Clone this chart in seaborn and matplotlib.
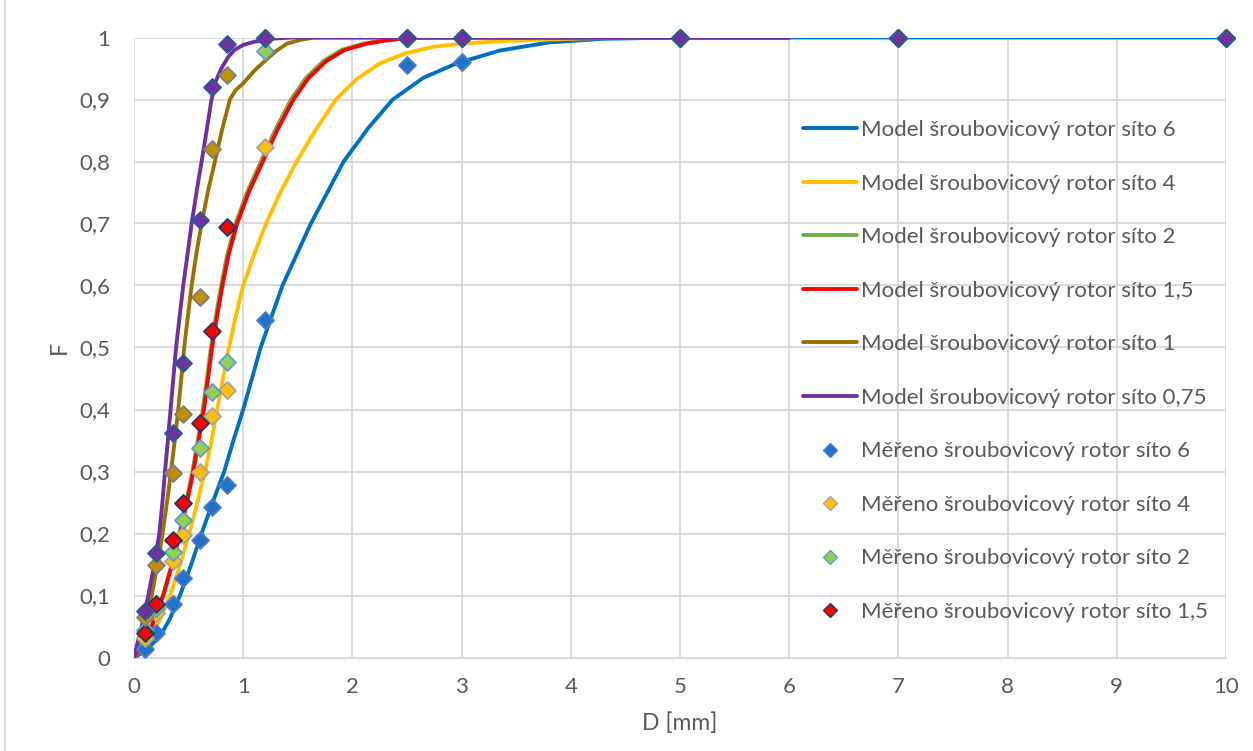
import matplotlib
matplotlib.use("Agg")
import matplotlib.pyplot as plt
from matplotlib.ticker import FuncFormatter, MultipleLocator
from matplotlib.lines import Line2D
import seaborn as sns

# Sieve sizes of the measured fractions [mm]
d_meas = [0.1, 0.2, 0.355, 0.45, 0.6, 0.71, 0.85, 1.2, 2.5, 3, 5, 7, 10]

# Measured cumulative passing F for each screen
meas_6 = [0.013, 0.039, 0.087, 0.129, 0.19, 0.242, 0.279, 0.545, 0.955, 0.96, 1, 1, 1]
meas_4 = [0.031, 0.072, 0.155, 0.198, 0.30, 0.389, 0.432, 0.824, 1, 1, 1, 1, 1]
meas_2 = [0.045, 0.08, 0.170, 0.222, 0.338, 0.429, 0.477, 0.979, 1, 1, 1, 1, 1]
meas_15 = [0.039, 0.086, 0.19, 0.249, 0.379, 0.527, 0.694, 1.0, 1, 1, 1, 1, 1]
meas_1 = [0.066, 0.149, 0.298, 0.393, 0.581, 0.82, 0.94, 1.0, 1, 1, 1, 1, 1]
meas_075 = [0.075, 0.168, 0.362, 0.475, 0.705, 0.92, 0.99, 1.0, 1, 1, 1, 1, 1]

# Model curves (D [mm], F)
model_6_d = [0, 0.1, 0.238, 0.33, 0.421, 0.52, 0.619, 0.72, 0.826, 0.91, 1.0, 1.08, 1.16,
             1.26, 1.36, 1.49, 1.62, 1.77, 1.92, 2.15, 2.37, 2.65, 2.95, 3.35, 3.8, 4.3,
             5, 6, 8, 10]
model_6_f = [0, 0.01, 0.034, 0.063, 0.1, 0.148, 0.2, 0.25, 0.3, 0.35, 0.4, 0.45, 0.5,
             0.55, 0.6, 0.65, 0.7, 0.75, 0.8, 0.855, 0.9, 0.935, 0.958, 0.979, 0.992, 0.998,
             1, 1, 1, 1]

model_4_d = [0, 0.15, 0.25, 0.329, 0.42, 0.506, 0.58, 0.65, 0.71, 0.762, 0.815, 0.87, 0.932,
             1.0, 1.1, 1.21, 1.34, 1.49, 1.66, 1.85, 2.04, 2.25, 2.48, 2.74, 3.0, 3.35,
             4.0, 4.5, 6]
model_4_f = [0, 0.03, 0.066, 0.1, 0.148, 0.2, 0.25, 0.3, 0.35, 0.4, 0.45, 0.5, 0.55,
             0.6, 0.65, 0.7, 0.75, 0.8, 0.85, 0.9, 0.933, 0.958, 0.974, 0.985, 0.99, 0.994,
             0.998, 1, 1]

model_2_d = [0, 0.118, 0.264, 0.345, 0.415, 0.478, 0.535, 0.584, 0.63, 0.668, 0.704, 0.749,
             0.798, 0.854, 0.931, 1.034, 1.162, 1.29, 1.438, 1.576, 1.734, 1.9, 2.1, 2.27,
             2.41, 2.66, 6]
model_2_f = [0, 0.03, 0.1, 0.15, 0.2, 0.25, 0.3, 0.35, 0.4, 0.45, 0.5, 0.55,
             0.6, 0.65, 0.7, 0.75, 0.8, 0.85, 0.9, 0.935, 0.962, 0.98, 0.99, 0.995,
             0.998, 1, 1]

model_15_d = [0, 0.12, 0.268, 0.35, 0.421, 0.485, 0.543, 0.593, 0.64, 0.678, 0.715, 0.76,
              0.81, 0.867, 0.945, 1.05, 1.18, 1.31, 1.46, 1.6, 1.76, 1.93, 2.13, 2.3,
              2.45, 2.7, 6]
model_15_f = [0, 0.03, 0.1, 0.15, 0.2, 0.25, 0.3, 0.35, 0.4, 0.45, 0.5, 0.55,
              0.6, 0.65, 0.7, 0.75, 0.8, 0.85, 0.9, 0.935, 0.962, 0.98, 0.99, 0.995,
              0.998, 1, 1]

model_1_d = [0, 0.08, 0.162, 0.215, 0.262, 0.302, 0.339, 0.373, 0.405, 0.433, 0.46, 0.493,
             0.528, 0.57, 0.619, 0.675, 0.741, 0.805, 0.878, 0.93, 1.0, 1.1, 1.21, 1.3,
             1.4, 1.52, 1.65, 6]
model_1_f = [0, 0.04, 0.1, 0.15, 0.2, 0.25, 0.3, 0.35, 0.4, 0.45, 0.5, 0.55,
             0.6, 0.65, 0.7, 0.75, 0.8, 0.85, 0.9, 0.915, 0.926, 0.946, 0.964, 0.978,
             0.99, 0.996, 1, 1]

model_075_d = [0, 0.07, 0.131, 0.185, 0.232, 0.26, 0.284, 0.31, 0.335, 0.36, 0.385, 0.418,
               0.451, 0.49, 0.528, 0.572, 0.619, 0.665, 0.71, 0.75, 0.80, 0.86, 0.92, 1.0,
               1.1, 1.25, 1.45, 6]
model_075_f = [0, 0.05, 0.1, 0.15, 0.2, 0.25, 0.3, 0.35, 0.4, 0.45, 0.5, 0.55,
               0.6, 0.65, 0.7, 0.75, 0.8, 0.85, 0.9, 0.93, 0.95, 0.968, 0.98, 0.988,
               0.993, 0.998, 1, 1]

label_model = ["Model šroubovicový rotor síto 6", "Model šroubovicový rotor síto 4",
               "Model šroubovicový rotor síto 2", "Model šroubovicový rotor síto 1,5",
               "Model šroubovicový rotor síto 1", "Model šroubovicový rotor síto 0,75"]
label_meas = ["Měřeno šroubovicový rotor síto 6", "Měřeno šroubovicový rotor síto 4",
              "Měřeno šroubovicový rotor síto 2", "Měřeno šroubovicový rotor síto 1,5"]

x_ticks = [0, 1, 2, 3, 4, 5, 6, 7, 8, 9, 10]

sns.set_theme(style="white")
plt.rcParams["font.family"] = ["Lato", "DejaVu Sans"]
TXT = "#595959"

fig = plt.figure(figsize=(12.53, 7.51), dpi=100)
ax = fig.add_axes([134 / 1253, (751 - 657.5) / 751, 1092 / 1253, 620 / 751])

line_colors = ["#0070C0", "#FFC000", "#70AD47", "#FF0000", "#997300", "#7030A0"]
models = [(model_6_d, model_6_f), (model_4_d, model_4_f), (model_2_d, model_2_f),
          (model_15_d, model_15_f), (model_1_d, model_1_f), (model_075_d, model_075_f)]
LW = 2.8

for (xd, yd), col in zip(models, line_colors):
    sns.lineplot(x=xd, y=yd, color=col, linewidth=LW, ax=ax, estimator=None,
                 sort=False, zorder=3, legend=False,
                 solid_joinstyle="round", solid_capstyle="round")

marker_fill = ["#2472C8", "#FFC000", "#92D050", "#FF0000", "#BF9000", "#7030A0"]
marker_edge = ["#4A7DD0", "#A5A5A5", "#5B9BD5", "#203864", "#7F7F7F", "#255E91"]
meas = [meas_6, meas_4, meas_2, meas_15, meas_1, meas_075]

for yd, fc, ec in zip(meas, marker_fill, marker_edge):
    sns.scatterplot(x=d_meas, y=yd, marker="D", s=75, color=fc, edgecolor=ec,
                    linewidth=1.3, ax=ax, zorder=5, clip_on=False, legend=False)

# legend: model lines first, then the measured markers
handles = [Line2D([], [], color=c, linewidth=LW) for c in line_colors]
handles += [Line2D([], [], linestyle="none", marker="D", markersize=7,
                   markerfacecolor=fc, markeredgecolor=ec, markeredgewidth=1.0)
            for fc, ec in zip(marker_fill[:4], marker_edge[:4])]
ax.legend(handles, label_model + label_meas, loc="upper left",
          bbox_to_anchor=(0.613, 0.867), frameon=False, fontsize=16,
          labelspacing=1.51, handlelength=2.4, handletextpad=0.2,
          labelcolor=TXT, borderaxespad=0, borderpad=0)

ax.set_xlim(0, 10)
ax.set_ylim(0, 1)
ax.set_xticks(x_ticks)
ax.yaxis.set_major_locator(MultipleLocator(0.1))
ax.xaxis.set_major_formatter(FuncFormatter(lambda v, p: f"{v:g}".replace(".", ",")))
ax.yaxis.set_major_formatter(FuncFormatter(lambda v, p: f"{round(v, 1):g}".replace(".", ",")))
ax.grid(True, color="#D9D9D9", linewidth=1.4)
ax.set_axisbelow(True)
for s in ax.spines.values():
    s.set_visible(False)
ax.spines["bottom"].set_visible(True)
ax.spines["bottom"].set_color("#D9D9D9")
ax.spines["bottom"].set_linewidth(1.4)
ax.tick_params(axis="both", length=0, labelsize=16, labelcolor=TXT)
ax.tick_params(axis="y", pad=17)
ax.tick_params(axis="x", pad=14)
ax.set_xlabel("D [mm]", fontsize=16.5, color=TXT, labelpad=11)
ax.set_ylabel("F", fontsize=16.5, color=TXT, labelpad=6.5)

# chart area border on the left
fig.add_artist(Line2D([5 / 1253, 5 / 1253], [0, 1], color="#D9D9D9", linewidth=1.2,
                      transform=fig.transFigure))

fig.savefig("out.png", dpi=100)
